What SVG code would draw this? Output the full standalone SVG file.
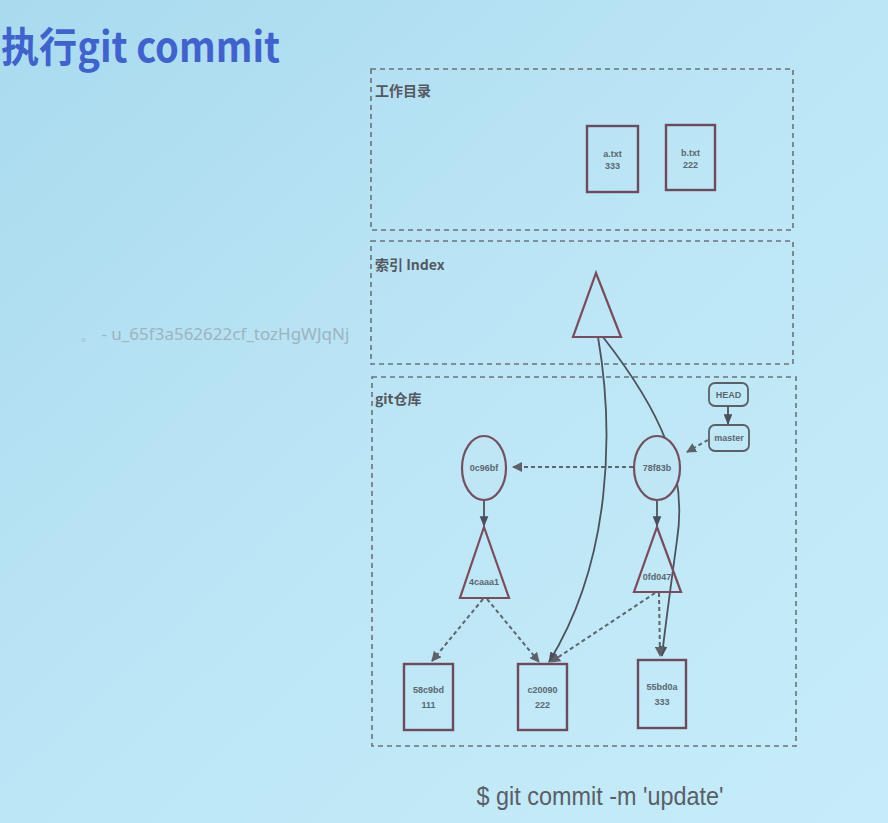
<svg xmlns="http://www.w3.org/2000/svg" width="888" height="823" viewBox="0 0 888 823">
  <defs>
    <linearGradient id="bg" x1="0" y1="0" x2="1" y2="1">
      <stop offset="0" stop-color="#a9daee"/>
      <stop offset="0.5" stop-color="#bce6f6"/>
      <stop offset="1" stop-color="#c6ecf9"/>
    </linearGradient>
    <marker id="arr" viewBox="0 0 10 10" refX="9" refY="5" markerWidth="5" markerHeight="5" orient="auto-start-reverse">
      <path d="M0,0 L10,5 L0,10 z" fill="#5f6068"/>
    </marker>
    <marker id="arrS" viewBox="0 0 10 10" refX="9" refY="5" markerWidth="6" markerHeight="6" orient="auto">
      <path d="M0,1 L10,5 L0,9 z" fill="#4a4f5a"/>
    </marker>
  </defs>
  <style>
    .area { fill: none; stroke: #6d7178; stroke-width: 1.6; stroke-dasharray: 5 4; }
    .area-label { font-family: "Noto Sans CJK SC", "Liberation Sans", sans-serif; font-size: 14px; font-weight: bold; fill: #55585e; }
    .blob { fill: none; stroke: #6e4a5c; stroke-width: 2.4; }
    .commit { fill: #bfe6f5; stroke: #74505f; stroke-width: 2.2; }
    .tree { fill: none; stroke: #7a4c5c; stroke-width: 2.2; }
    .ref { fill: none; stroke: #5c5f66; stroke-width: 1.8; }
    .small { font-family: "Liberation Sans Narrow", "Liberation Sans", sans-serif; font-size: 9px; font-weight: bold; fill: #5d6670; text-anchor: middle; }
    .dash { fill: none; stroke: #5f6470; stroke-width: 2; stroke-dasharray: 4 3; marker-end: url(#arr); }
    .solid { fill: none; stroke: #4d525c; stroke-width: 1.8; marker-end: url(#arrS); }
  </style>

  <rect width="888" height="823" fill="url(#bg)"/>

  <!-- heading -->
  <text x="1" y="62" font-family="Noto Sans CJK SC, Liberation Sans, sans-serif" font-size="41" font-weight="bold" fill="#4062cf" textLength="279" lengthAdjust="spacingAndGlyphs">执行git commit</text>

  <!-- overlay text -->
  <text x="80" y="340" font-family="Noto Sans, Liberation Sans, sans-serif" font-size="17" fill="#9fb3bd">。 - u_65f3a562622cf_tozHgWJqNj</text>

  <!-- areas -->
  <g id="workdir">
    <rect class="area" x="371" y="69" width="422" height="161"/>
    <text class="area-label" x="375" y="96">工作目录</text>
  </g>
  <g id="index">
    <rect class="area" x="371" y="241" width="422" height="123"/>
    <text class="area-label" x="375" y="270">索引 Index</text>
  </g>
  <g id="repo">
    <rect class="area" x="372" y="377" width="424" height="369"/>
    <text class="area-label" x="375" y="404">git仓库</text>
  </g>

  <!-- connectors -->
  <g id="connectors">
    <path class="solid" d="M598,337 C614,430 612,560 549,662"/>
    <path class="solid" d="M603,337 C660,410 688,470 677,540 C671,585 666,620 662,656"/>
    <line class="solid" x1="728" y1="406" x2="728" y2="424"/>
    <line class="dash" x1="708" y1="440" x2="687" y2="452"/>
    <line class="dash" x1="633" y1="467" x2="513" y2="467"/>
    <line class="solid" x1="484" y1="500" x2="484" y2="526"/>
    <line class="solid" x1="657" y1="500" x2="657" y2="526"/>
    <line class="dash" x1="483" y1="599" x2="432" y2="661"/>
    <line class="dash" x1="487" y1="599" x2="539" y2="662"/>
    <line class="dash" x1="655" y1="593" x2="551" y2="662"/>
    <line class="dash" x1="659" y1="593" x2="660" y2="656"/>
  </g>

  <!-- working directory files -->
  <g id="a-txt">
    <rect class="blob" x="587" y="126" width="51" height="66"/>
    <text class="small" x="612.5" y="157">a.txt</text>
    <text class="small" x="612.5" y="169">333</text>
  </g>
  <g id="b-txt">
    <rect class="blob" x="666" y="125" width="49" height="65"/>
    <text class="small" x="690.5" y="156">b.txt</text>
    <text class="small" x="690.5" y="168">222</text>
  </g>

  <!-- index tree -->
  <g id="index-tree">
    <polygon class="tree" points="596,273 621,337 573,337"/>
  </g>

  <!-- refs -->
  <g id="head">
    <rect class="ref" x="709" y="383" width="39" height="23" rx="6"/>
    <text class="small" x="728.5" y="398" font-size="8">HEAD</text>
  </g>
  <g id="master">
    <rect class="ref" x="709" y="425" width="40" height="26" rx="6"/>
    <text class="small" x="729" y="441" font-size="8">master</text>
  </g>

  <!-- commits -->
  <g id="commit-0c96bf">
    <ellipse class="commit" cx="484" cy="468" rx="22" ry="32"/>
    <text class="small" x="484" y="471">0c96bf</text>
  </g>
  <g id="commit-78f83b">
    <ellipse class="commit" cx="657" cy="468" rx="23" ry="32"/>
    <text class="small" x="657" y="471">78f83b</text>
  </g>

  <!-- trees -->
  <g id="tree-4caaa1">
    <polygon class="tree" points="484,527 509,598 460,598"/>
    <text class="small" x="484" y="585">4caaa1</text>
  </g>
  <g id="tree-0fd047">
    <polygon class="tree" points="657,527 681,592 634,592"/>
    <text class="small" x="657" y="580">0fd047</text>
  </g>

  <!-- blobs -->
  <g id="blob-58c9bd">
    <rect class="blob" x="404" y="664" width="49" height="66"/>
    <text class="small" x="428.5" y="693">58c9bd</text>
    <text class="small" x="428.5" y="708">111</text>
  </g>
  <g id="blob-c20090">
    <rect class="blob" x="518" y="664" width="49" height="66"/>
    <text class="small" x="542.5" y="693">c20090</text>
    <text class="small" x="542.5" y="708">222</text>
  </g>
  <g id="blob-55bd0a">
    <rect class="blob" x="638" y="660" width="48" height="68"/>
    <text class="small" x="662" y="690">55bd0a</text>
    <text class="small" x="662" y="705">333</text>
  </g>

  <!-- command -->
  <text x="600" y="805" text-anchor="middle" font-family="Liberation Sans Narrow, Liberation Sans, sans-serif" font-size="26" fill="#5a5e66" textLength="247" lengthAdjust="spacingAndGlyphs">$ git commit -m 'update'</text>
</svg>
